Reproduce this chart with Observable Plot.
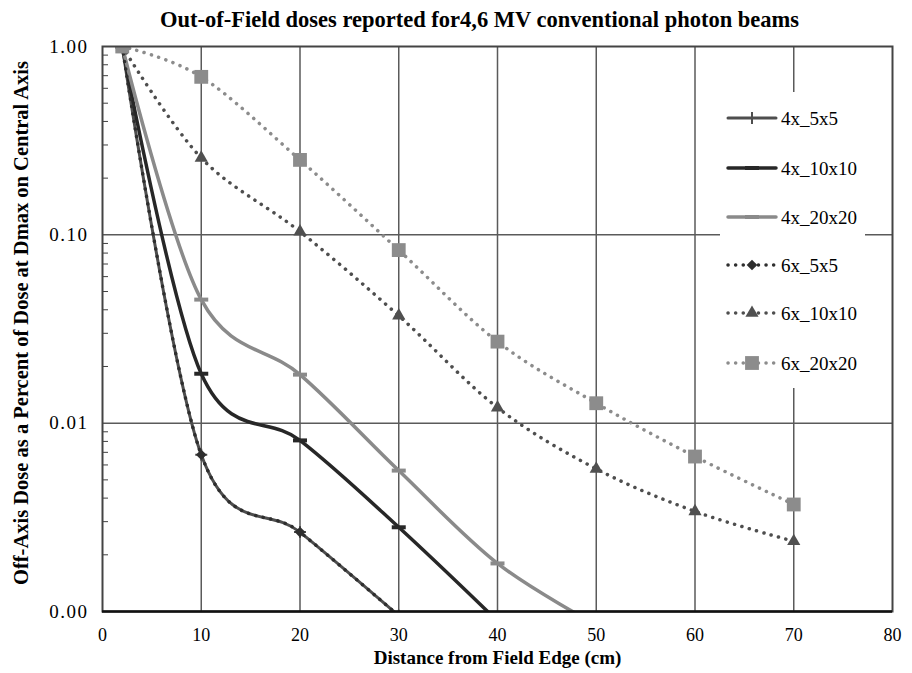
<!DOCTYPE html>
<html><head><meta charset="utf-8">
<script src="https://cdn.jsdelivr.net/npm/d3@7"></script>
<script src="https://cdn.jsdelivr.net/npm/@observablehq/plot@0.6"></script>
<style>
body{margin:0;background:#fff;}
#wrap{position:relative;width:912px;height:673px;}
#wrap, #wrap svg, #wrap text{font-family:"Liberation Serif","Times New Roman",Times,serif !important;}
#wrap g[aria-label="y-axis tick label"] text{letter-spacing:1.5px;}
#legend{position:absolute;left:720px;top:92px;}
</style></head><body><div id="wrap"></div>
<script>
// ---- text ----
const title = "Out-of-Field doses reported for4,6 MV conventional photon beams";
const xLabel = "Distance from Field Edge (cm)";
const yLabel = "Off-Axis Dose as a Percent of Dose at Dmax on Central Axis";

// ---- data ----
const seriesNames = ["4x_5x5", "4x_10x10", "4x_20x20", "6x_5x5", "6x_10x10", "6x_20x20"];
const dist_4x_5x5   = [2, 10, 20, 30];
const dose_4x_5x5   = [1, 0.0068, 0.00264, 0.00095];
const dist_4x_10x10 = [2, 10, 20, 30, 40];
const dose_4x_10x10 = [1, 0.0183, 0.0081, 0.0028, 0.00089];
const dist_4x_20x20 = [2, 10, 20, 30, 40, 50];
const dose_4x_20x20 = [1, 0.0453, 0.0181, 0.0056, 0.0018, 0.00085];
const dist_6x_5x5   = [2, 10, 20, 30];
const dose_6x_5x5   = [1, 0.0068, 0.00264, 0.00095];
const dist_6x_10x10 = [2, 10, 20, 30, 40, 50, 60, 70];
const dose_6x_10x10 = [1, 0.256, 0.104, 0.0372, 0.0121, 0.00572, 0.0034, 0.00236];
const dist_6x_20x20 = [2, 10, 20, 30, 40, 50, 60, 70];
const dose_6x_20x20 = [1, 0.69, 0.25, 0.083, 0.0271, 0.01276, 0.00665, 0.0037];

const xTicks = [0, 10, 20, 30, 40, 50, 60, 70, 80];
const yTicks = [0.001, 0.01, 0.1, 1];

// ---- styles ----
const FONT = "Liberation Serif, Times New Roman, serif";
const dashSym = {draw(ctx){ ctx.rect(-7, -2, 14, 4); }};
const plusSym = {draw(ctx){ ctx.rect(-1, -6, 2, 12); ctx.rect(-6, -1, 12, 2); }};
const styles = {
  "4x_5x5":   {stroke: "#4e4e4e", width: 3,   dash: null, symbol: plusSym, r: 5, fill: "#4e4e4e"},
  "4x_10x10": {stroke: "#272727", width: 3.5, dash: null, symbol: dashSym, r: 5, fill: "#272727"},
  "4x_20x20": {stroke: "#8a8a8a", width: 3.5, dash: null, symbol: dashSym, r: 5, fill: "#8a8a8a"},
  "6x_5x5":   {stroke: "#2e2e2e", width: 3.5, dash: "0.1 7.5", symbol: "diamond2", r: 4.8, fill: "#2e2e2e"},
  "6x_10x10": {stroke: "#4e4e4e", width: 3.5, dash: "0.1 7.5", symbol: "triangle", r: 4.9, fill: "#505050"},
  "6x_20x20": {stroke: "#8c8c8c", width: 3.5, dash: "0.1 7.5", symbol: "square", r: 7.8, fill: "#8c8c8c"}
};

const seriesData = {
  "4x_5x5":   [dist_4x_5x5, dose_4x_5x5],
  "4x_10x10": [dist_4x_10x10, dose_4x_10x10],
  "4x_20x20": [dist_4x_20x20, dose_4x_20x20],
  "6x_5x5":   [dist_6x_5x5, dose_6x_5x5],
  "6x_10x10": [dist_6x_10x10, dose_6x_10x10],
  "6x_20x20": [dist_6x_20x20, dose_6x_20x20]
};

const minorTicks = [];
for (const base of [0.001, 0.01, 0.1]) for (let k = 2; k <= 9; k++) minorTicks.push(base * k);

const seriesMarks = [];
for (const name of seriesNames) {
  const [xs, ys] = seriesData[name];
  const rows = xs.map((x, i) => ({x, y: ys[i]}));
  const s = styles[name];
  seriesMarks.push(Plot.line(rows, {x: "x", y: "y", stroke: s.stroke, strokeWidth: s.width,
    strokeDasharray: s.dash, strokeLinecap: "round", curve: "cardinal", clip: true}));
  seriesMarks.push(Plot.dot(rows, {x: "x", y: "y", symbol: s.symbol, r: s.r, fill: s.fill, stroke: "none", clip: true}));
}

const chart = Plot.plot({
  width: 912, height: 673,
  marginLeft: 102, marginRight: 20, marginTop: 46, marginBottom: 62,
  style: {fontFamily: FONT, background: "white", color: "#000"},
  x: {domain: [0, 80]},
  y: {type: "log", domain: [0.001, 1]},
  marks: [
    Plot.gridX(xTicks.filter(d => d > 0 && d < 80), {stroke: "#5a5a5a", strokeOpacity: 1, strokeWidth: 1.5}),
    Plot.gridY([0.01, 0.1], {stroke: "#5a5a5a", strokeOpacity: 1, strokeWidth: 1.5}),
    Plot.axisY({ticks: minorTicks, tickSize: -6, tickFormat: () => "", label: null, stroke: "#404040"}),
    ...seriesMarks,
    Plot.frame({stroke: "#444", strokeWidth: 2}),
    Plot.ruleY([0.001], {stroke: "#111", strokeWidth: 2.5}),
    Plot.axisX({ticks: xTicks, tickSize: 0, tickPadding: 17, fontSize: 18, label: null, fontFamily: FONT}),
    Plot.axisY({ticks: yTicks, tickFormat: d3.format(".2f"), tickSize: 0, tickPadding: 14, fontSize: 19, label: null, fontFamily: FONT}),
    Plot.text([title], {frameAnchor: "top", dy: -35, fontSize: 22.5, fontWeight: "bold", dx: -18, fontFamily: FONT}),
    Plot.text([xLabel], {frameAnchor: "bottom", dy: 52, fontSize: 19, fontWeight: "bold", fontFamily: FONT}),
    Plot.text([yLabel], {frameAnchor: "left", dx: -81, dy: -6, rotate: -90, textAnchor: "middle", fontSize: 20.5, fontWeight: "bold", fontFamily: FONT})
  ]
});
document.getElementById("wrap").appendChild(chart);

// ---- legend ----
const legendRowsY = [26, 76, 125, 173, 221, 271];
const leg = d3.select("#wrap").append("svg").attr("id", "legend")
  .attr("width", 145).attr("height", 296).style("background", "white");
seriesNames.forEach((name, i) => {
  const s = styles[name];
  const g = leg.append("g").attr("transform", `translate(0,${legendRowsY[i]})`);
  g.append("line").attr("x1", 8).attr("x2", 56).attr("y1", 0).attr("y2", 0)
    .attr("stroke", s.stroke).attr("stroke-width", s.width)
    .attr("stroke-dasharray", s.dash).attr("stroke-linecap", "round");
  let sym;
  if (typeof s.symbol === "string") {
    const map = {diamond2: d3.symbolDiamond2, triangle: d3.symbolTriangle, square: d3.symbolSquare};
    sym = map[s.symbol];
  } else sym = s.symbol;
  g.append("path").attr("transform", "translate(32,0)")
    .attr("d", d3.symbol(sym, Math.PI * s.r * s.r)()).attr("fill", s.fill);
  g.append("text").attr("x", 61).attr("y", 6.5).text(name)
    .attr("font-family", FONT).attr("font-size", 19).attr("fill", "#000");
});
</script></body></html>
